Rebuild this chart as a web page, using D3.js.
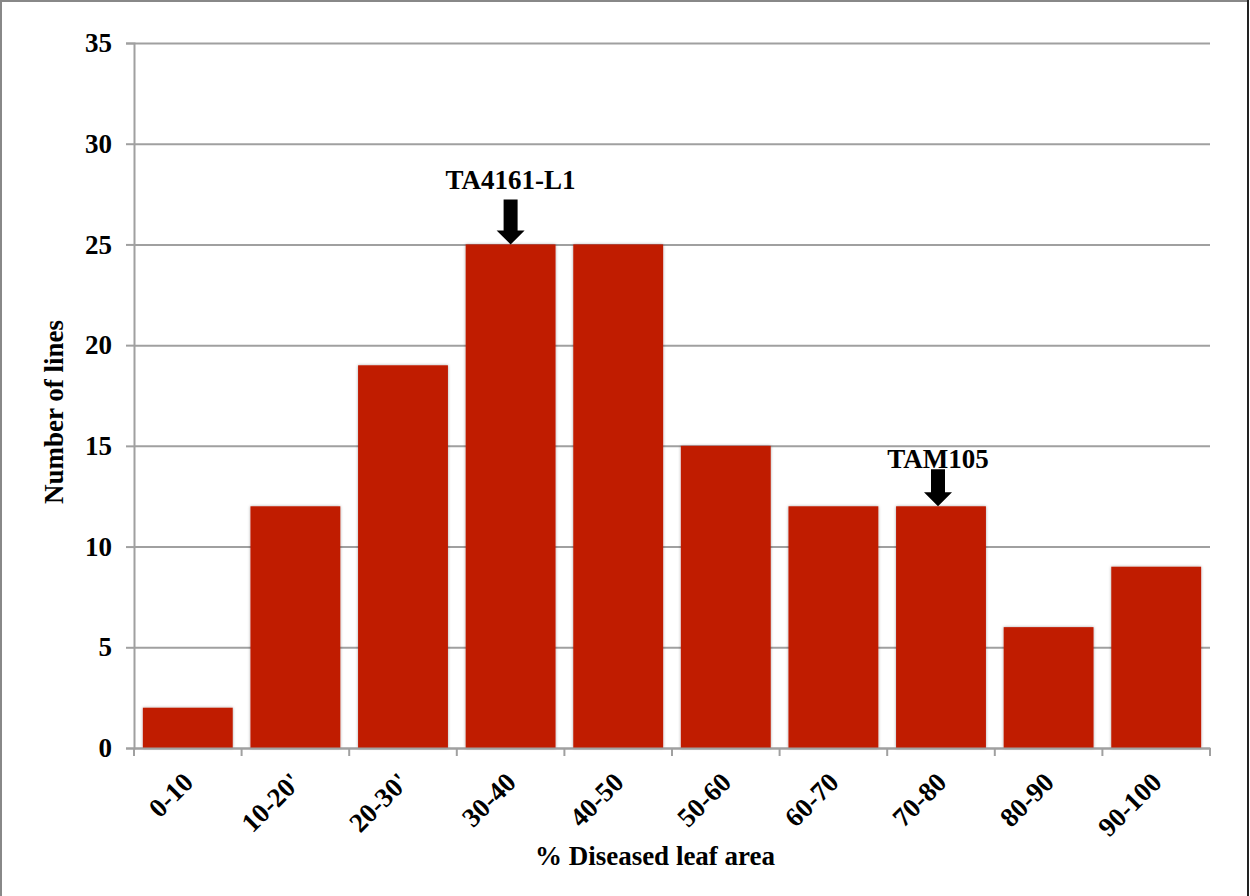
<!DOCTYPE html>
<html><head><meta charset="utf-8">
<script src="https://cdn.jsdelivr.net/npm/d3@7"></script>
<style>body{margin:0;background:#fff}svg{display:block}</style>
</head><body>
<script>
const categories = ["0-10","10-20'","20-30'","30-40","40-50","50-60","60-70","70-80","80-90","90-100"];
const values = [2,12,19,25,25,15,12,12,6,9];
const yTicks = [0,5,10,15,20,25,30,35];
const annotationCats = ["30-40","70-80"];
const annotationLabels = ["TA4161-L1","TAM105"];

const W=1250,H=896;
const svg=d3.select("body").append("svg").attr("width",W).attr("height",H);
svg.append("path").attr("d",`M1,${H} L1,1 L${W-2},1`).attr("fill","none").attr("stroke","#888").attr("stroke-width",2);
svg.append("line").attr("x1",W-2).attr("x2",W-2).attr("y1",0).attr("y2",H).attr("stroke","#222").attr("stroke-width",2);

const m={l:134,r:1210,t:43,b:748};
const x=d3.scaleBand().domain(categories).range([m.l,m.r]).paddingInner(0.165).paddingOuter(0.0825);
const y=d3.scaleLinear().domain([0,35]).range([m.b,m.t]);
const font="'Liberation Serif','Times New Roman',serif";
const FS=27;

const defs=svg.append("defs");
const f=defs.append("filter").attr("id","sh").attr("x","-10%").attr("y","-10%").attr("width","120%").attr("height","120%");
f.append("feDropShadow").attr("dx",0).attr("dy",0).attr("stdDeviation",1.5).attr("flood-color","#000").attr("flood-opacity",0.35);

// y axis + grid
const ya=svg.append("g").attr("transform",`translate(${m.l},0)`)
  .call(d3.axisLeft(y).tickValues(yTicks).tickSize(8).tickPadding(14));
ya.attr("font-size",null);
ya.select(".domain").attr("stroke","#a0a0a0").attr("stroke-width",2);
ya.selectAll(".tick line").attr("stroke","#a0a0a0").attr("stroke-width",2);
ya.selectAll(".tick").append("line").attr("x1",0).attr("x2",m.r-m.l).attr("stroke","#a0a0a0").attr("stroke-width",2);
ya.selectAll("text").style("font-family",font).style("font-weight","bold").style("font-size",FS+"px").attr("fill","#000");

// bars
svg.append("g").selectAll("rect").data(values).join("rect")
  .attr("x",(d,i)=>x(categories[i])).attr("y",d=>y(d))
  .attr("width",x.bandwidth()).attr("height",d=>y(0)-y(d))
  .attr("fill","#C01A00").attr("filter","url(#sh)");

// x axis
const xa=svg.append("g").attr("transform",`translate(0,${m.b})`)
  .call(d3.axisBottom(x).tickSize(0).tickSizeOuter(0).tickPadding(0));
xa.select(".domain").attr("stroke","#a0a0a0").attr("stroke-width",2);
xa.selectAll(".bnd").data(d3.range(categories.length+1)).join("line")
  .attr("x1",i=>m.l+i*(m.r-m.l)/categories.length).attr("x2",i=>m.l+i*(m.r-m.l)/categories.length)
  .attr("y1",0).attr("y2",8).attr("stroke","#a0a0a0").attr("stroke-width",2);
xa.selectAll(".tick text").style("font-family",font).style("font-weight","bold").style("font-size",FS+"px").attr("fill","#000")
  .attr("text-anchor","end").attr("dy",0).attr("dx",0).attr("y",0)
  .attr("transform","translate(7,36) rotate(-45)");

// titles
svg.append("text").attr("x",655).attr("y",865).attr("text-anchor","middle")
  .style("font-family",font).style("font-weight","bold").style("font-size",FS+"px").text("% Diseased leaf area");
svg.append("text").attr("transform",`translate(63,412) rotate(-90)`).attr("text-anchor","middle")
  .style("font-family",font).style("font-weight","bold").style("font-size",FS+"px").text("Number of lines");

// annotations (arrow length / label gap per annotation)
const arrowLen=[45,37], labelGap=[10,1], dxs=[0,-3];
annotationCats.forEach((c,i)=>{
  const v=values[categories.indexOf(c)];
  const cx=x(c)+x.bandwidth()/2+dxs[i], yb=y(v);
  const top=yb-arrowLen[i];
  svg.append("path").attr("d",`M${cx-7},${top} L${cx+7},${top} L${cx+7},${yb-14} L${cx+14},${yb-14} L${cx},${yb} L${cx-14},${yb-14} L${cx-7},${yb-14} Z`).attr("fill","#000");
  svg.append("text").attr("x",cx).attr("y",top-labelGap[i]).attr("text-anchor","middle")
    .style("font-family",font).style("font-weight","bold").style("font-size",FS+"px").text(annotationLabels[i]);
});
</script>
</body></html>
